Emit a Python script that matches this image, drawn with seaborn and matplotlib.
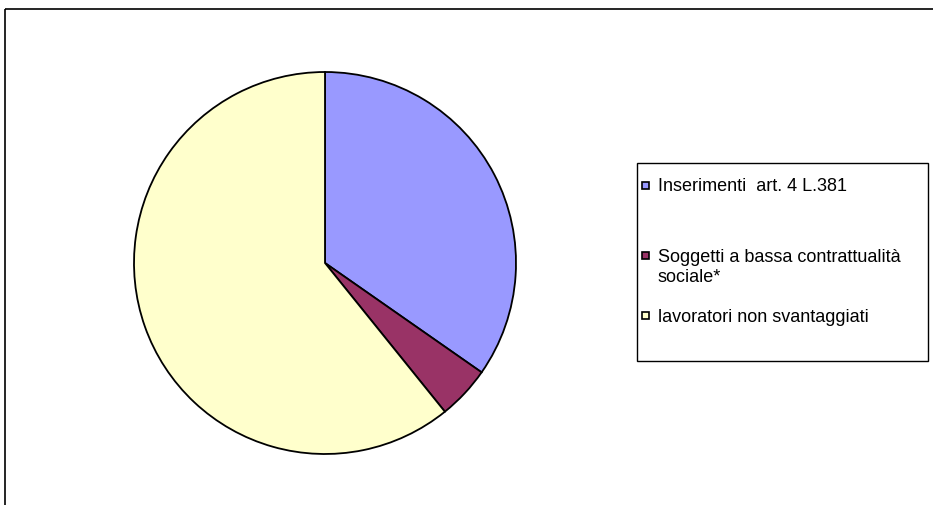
import matplotlib
matplotlib.use("Agg")
import matplotlib.pyplot as plt
from matplotlib.patches import Rectangle
import seaborn as sns

categories = ["Inserimenti  art. 4 L.381", "Soggetti a bassa contrattualità\nsociale*", "lavoratori non svantaggiati"]
values = [34.7, 4.5, 60.8]
colors = ["#9999FF", "#993366", "#FFFFCC"]

sns.set_style("white")
plt.rcParams["font.family"] = ["Liberation Sans", "DejaVu Sans"]

W, H = 933, 506
fig = plt.figure(figsize=(W / 100, H / 100), dpi=100)
fig.patch.set_facecolor("white")

bg = fig.add_axes([0, 0, 1, 1])
bg.set_xlim(0, W)
bg.set_ylim(H, 0)
bg.axis("off")

# outer frame (extends past the right and bottom edges)
bg.add_patch(Rectangle((5, 10), W + 20, H + 20, fill=False, edgecolor="black", linewidth=1.2))

# legend box
bg.add_patch(Rectangle((637, 164), 291, 198, facecolor="white", edgecolor="black", linewidth=1.0))
marker_y = [186, 256, 316]
baselines = [191, 262, 322]
for c, lab, my, by in zip(colors, categories, marker_y, baselines):
    bg.add_patch(Rectangle((642, my - 3.5), 7, 7, facecolor=c, edgecolor="black", linewidth=1.2))
    for i, line in enumerate(lab.split("\n")):
        bg.text(658, by + 20 * i, line, fontsize=13, va="baseline", ha="left", color="black")

# pie
cx, cy, r = 325, 264, 191
ax = fig.add_axes([(cx - r) / W, (H - cy - r) / H, 2 * r / W, 2 * r / H])
ax.pie(values, colors=colors, startangle=90, counterclock=False,
       wedgeprops=dict(edgecolor="black", linewidth=1.3))
ax.set_xlim(-1, 1)
ax.set_ylim(-1, 1)
ax.set_aspect("equal")
ax.axis("off")

fig.savefig("out.png", dpi=100)
